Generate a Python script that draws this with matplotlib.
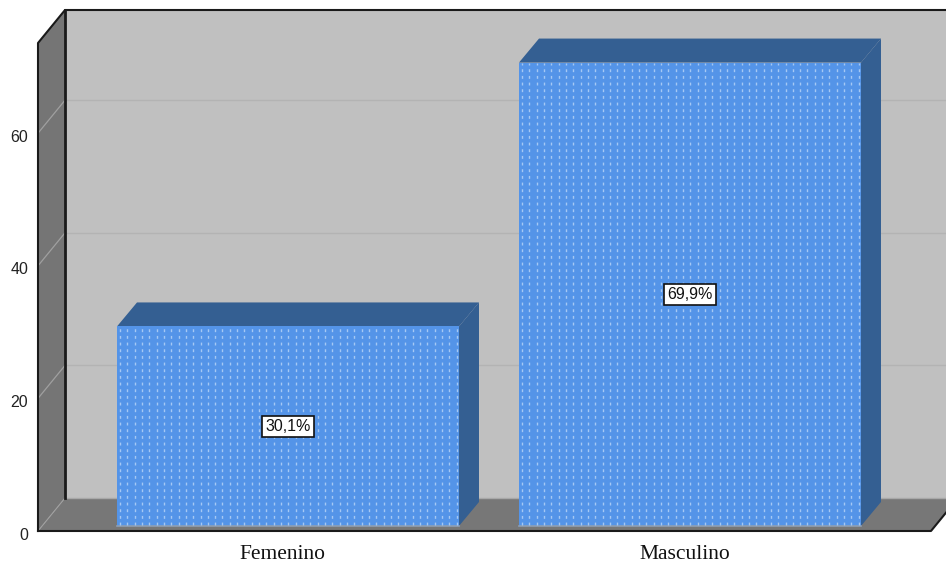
import numpy as np
import matplotlib
matplotlib.use("Agg")
import matplotlib.pyplot as plt
from matplotlib.patches import Polygon
from matplotlib.transforms import ScaledTranslation

categories = ["Femenino", "Masculino"]
values = [30.1, 69.9]
labels = ["30,1%", "69,9%"]
yticks = [0, 20, 40, 60]

W, H = 946, 564
# front plane of the 3d box in pixels
left, right, bottom, top = 38, 931, 531, 43
ppx = 402.0   # px per category
ppy = 6.63    # px per percent
x0 = 282.5    # px position of category 0

fig = plt.figure(figsize=(W / 100, H / 100), dpi=100)
ax = fig.add_axes([left / W, 1 - bottom / H, (right - left) / W, (bottom - top) / H])
ax.set_xlim((left - x0) / ppx, (right - x0) / ppx)
ax.set_ylim(0, (bottom - top) / ppy)
ax.patch.set_visible(False)
for s in ax.spines.values():
    s.set_visible(False)

# px offsets -> data units
def ox(px):
    return px / ppx

def oy(px):
    return px / ppy

xa, xb = ax.get_xlim()
ya, yb = ax.get_ylim()
DX, DY = ox(27), oy(33)
xedge = xa + ox(W - left)  # image edge

def poly(pts, color, z, **kw):
    ax.add_patch(Polygon(pts, closed=True, facecolor=color, edgecolor="none", zorder=z, clip_on=False, **kw))

# walls
poly([(xa + DX, DY), (xedge, DY), (xedge, yb + DY), (xa + DX, yb + DY)], "#c0c0c0", 1)
poly([(xa, 0), (xa + DX, DY), (xa + DX, yb + DY), (xa, yb)], "#757575", 2)
poly([(xa, 0), (xb, 0), (xb + DX, DY), (xa + DX, DY)], "#777777", 2)

# grid on back and side wall
for t in yticks[1:]:
    ax.plot([xa + DX, xedge], [t + DY, t + DY], color="#b3b3b3", lw=1.0, zorder=3, clip_on=False)
    ax.plot([xa, xa + DX], [t, t + DY], color="#a0a0a0", lw=0.9, zorder=3, clip_on=False)
ax.plot([xa + DX, xedge], [DY, DY], color="#a8a8a8", lw=1.0, zorder=3, clip_on=False)
ax.plot([xa, xa + DX], [0, DY], color="#a0a0a0", lw=0.8, zorder=3, clip_on=False)

# box outline
line = dict(color="#1a1a1a", lw=1.5, zorder=4, clip_on=False, solid_capstyle="projecting")
ax.plot([xa, xa, xa + DX, xedge], [0, yb, yb + DY, yb + DY], **line)
ax.plot([xa + DX, xa + DX], [DY, yb + DY], color="#1a1a1a", lw=2, zorder=4, clip_on=False)
ax.plot([xa, xb, xb + DX], [0, 0, DY], **line)

# bars
bw = 342 / ppx
sx, sy = ox(5.5), oy(5)
bdx, bdy = ox(20), oy(24)
for i, (v, lab) in enumerate(zip(values, labels)):
    x1 = i - bw / 2 + sx
    x2 = i + bw / 2 + sx
    y1, y2 = sy, v + sy
    poly([(x1, y2), (x2, y2), (x2 + bdx, y2 + bdy), (x1 + bdx, y2 + bdy)], "#345f92", 5)
    poly([(x2, y1), (x2 + bdx, y1 + bdy), (x2 + bdx, y2 + bdy), (x2, y2)], "#345f92", 5)
    poly([(x1, y1), (x2, y1), (x2, y2), (x1, y2)], "#5494e8", 6)
    ax.plot([x1, x2], [y1, y1], color="#8e9fb5", lw=1.2, zorder=7)
    # dotted texture of the front face
    for cx in np.arange(x1 + ox(3), x2, ox(7.32)):
        ax.plot([cx, cx], [y1 + oy(1), y2], color="#a5c8f4", lw=1.0, zorder=7,
                linestyle=(0, (2.1, 2.7)), dash_capstyle="butt")
    ax.text(i + sx, y1 + v / 2, lab, ha="center", va="center", fontsize=11.5,
            family="Liberation Sans", color="#111111", zorder=9,
            bbox=dict(boxstyle="square,pad=0.2", facecolor="white", edgecolor="#111111", lw=1.2))

ax.set_xticks(range(len(categories)))
ax.set_xticklabels(categories, family="Liberation Serif", fontsize=15.5, color="#111111")
ax.set_yticks(yticks)
ax.set_yticklabels([str(t) for t in yticks], family="Liberation Sans", fontsize=11.5, color="#222222")
ax.tick_params(axis="both", length=0)
ax.tick_params(axis="x", pad=10)
ax.tick_params(axis="y", pad=7)
# y labels sit a little below their gridline start
for lb in ax.get_yticklabels():
    lb.set_transform(lb.get_transform() + ScaledTranslation(0, -2.5 / 100, fig.dpi_scale_trans))

fig.savefig("out.png", dpi=100)
